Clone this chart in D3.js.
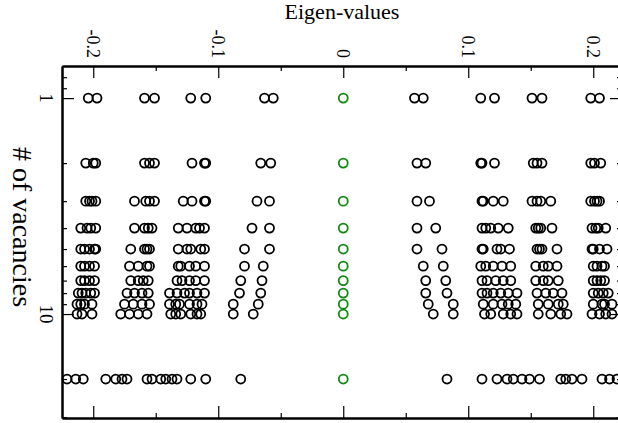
<!DOCTYPE html>
<html>
<head>
<meta charset="utf-8">
<script src="https://cdn.jsdelivr.net/npm/d3@7"></script>
<style>
  html, body { margin: 0; padding: 0; background: #fff; }
  svg { display: block; font-family: "Liberation Serif", "Times New Roman", serif; }
</style>
</head>
<body>
<div id="chart"></div>
<script>
// number of vacancies (one row of eigenvalues per count)
const vacancies = [1, 2, 3, 4, 5, 6, 7, 8, 9, 10, 20];

// non-zero eigenvalues read for each row
const eig1 = [-0.204, -0.197, -0.159, -0.151, -0.122, -0.110, -0.063, -0.056, 0.057, 0.064, 0.110, 0.121, 0.151, 0.159, 0.198, 0.205];
const eig2 = [-0.206, -0.200, -0.198, -0.159, -0.155, -0.151, -0.121, -0.111, -0.110, -0.066, -0.058, 0.059, 0.066, 0.110, 0.111, 0.121, 0.152, 0.155, 0.159, 0.198, 0.201, 0.206];
const eig3 = [-0.206, -0.203, -0.201, -0.198, -0.167, -0.158, -0.155, -0.151, -0.128, -0.121, -0.111, -0.110, -0.069, -0.059, 0.059, 0.069, 0.111, 0.112, 0.120, 0.128, 0.151, 0.155, 0.158, 0.166, 0.198, 0.201, 0.203, 0.205];
const eig4 = [-0.210, -0.205, -0.202, -0.198, -0.167, -0.159, -0.156, -0.153, -0.132, -0.125, -0.118, -0.115, -0.111, -0.073, -0.059, 0.059, 0.074, 0.111, 0.114, 0.118, 0.124, 0.132, 0.154, 0.156, 0.158, 0.167, 0.199, 0.202, 0.204, 0.210];
const eig5 = [-0.210, -0.207, -0.203, -0.199, -0.198, -0.170, -0.159, -0.157, -0.155, -0.132, -0.125, -0.122, -0.114, -0.111, -0.079, -0.059, 0.059, 0.079, 0.111, 0.112, 0.123, 0.126, 0.133, 0.155, 0.157, 0.159, 0.171, 0.199, 0.200, 0.205, 0.211];
const eig6 = [-0.210, -0.207, -0.203, -0.199, -0.171, -0.164, -0.157, -0.155, -0.132, -0.130, -0.123, -0.118, -0.111, -0.079, -0.064, 0.064, 0.080, 0.110, 0.114, 0.120, 0.127, 0.134, 0.154, 0.160, 0.164, 0.171, 0.200, 0.203, 0.207, 0.209];
const eig7 = [-0.210, -0.207, -0.203, -0.199, -0.170, -0.164, -0.160, -0.156, -0.133, -0.129, -0.123, -0.118, -0.111, -0.082, -0.065, 0.066, 0.082, 0.111, 0.115, 0.122, 0.128, 0.134, 0.154, 0.160, 0.164, 0.172, 0.200, 0.203, 0.206, 0.209];
const eig8 = [-0.212, -0.209, -0.206, -0.202, -0.199, -0.173, -0.167, -0.161, -0.156, -0.139, -0.133, -0.127, -0.123, -0.117, -0.111, -0.083, -0.066, 0.066, 0.083, 0.111, 0.115, 0.120, 0.126, 0.132, 0.139, 0.155, 0.162, 0.168, 0.175, 0.200, 0.204, 0.208, 0.212];
const eig9 = [-0.213, -0.210, -0.207, -0.201, -0.175, -0.168, -0.161, -0.155, -0.139, -0.134, -0.131, -0.123, -0.117, -0.113, -0.088, -0.068, 0.068, 0.088, 0.112, 0.120, 0.127, 0.132, 0.138, 0.156, 0.164, 0.172, 0.176, 0.200, 0.207, 0.209, 0.215];
const eig10 = [-0.213, -0.209, -0.201, -0.178, -0.171, -0.164, -0.157, -0.138, -0.134, -0.130, -0.122, -0.117, -0.114, -0.088, -0.072, 0.072, 0.088, 0.113, 0.118, 0.128, 0.134, 0.139, 0.156, 0.166, 0.174, 0.179, 0.199, 0.205, 0.210, 0.215];
const eig20 = [-0.221, -0.214, -0.208, -0.190, -0.182, -0.177, -0.173, -0.157, -0.153, -0.146, -0.142, -0.137, -0.133, -0.122, -0.110, -0.082, 0.083, 0.111, 0.123, 0.131, 0.136, 0.143, 0.149, 0.157, 0.174, 0.178, 0.183, 0.191, 0.207, 0.213, 0.219];

// the zero mode present in every row (drawn green)
const zeroModes = [0, 0, 0, 0, 0, 0, 0, 0, 0, 0, 0];

const xTicks = [-0.2, -0.1, 0, 0.1, 0.2];
const xMinor = [-0.15, -0.05, 0.05, 0.15];
const yTicks = [1, 10];
const yMinor = [0.8, 0.9, 2, 3, 4, 5, 6, 7, 8, 9, 20, 30];

(() => {
  const W = 618, H = 423;
  const mLeft = 62, mRight = 622, mTop = 66, mBottom = 418;

  const svg = d3.select('#chart').append('svg')
    .attr('width', W).attr('height', H);

  const x = d3.scaleLinear().domain([-0.225, 0.223]).range([mLeft, mRight]);
  const y = d3.scaleLog().domain([0.71, 30.3]).range([mTop, mBottom]);

  const rows = [eig1, eig2, eig3, eig4, eig5, eig6, eig7, eig8, eig9, eig10, eig20];
  const points = rows.flatMap((vals, i) => vals.map(v => ({ n: vacancies[i], v })));
  const zeros = zeroModes.map((v, i) => ({ n: vacancies[i], v }));

  // axes: ticks pointing inward on all four sides
  function styleAxis(g) {
    g.select('.domain').attr('stroke', '#000').attr('stroke-width', 2);
    g.selectAll('.tick line').attr('stroke', '#000').attr('stroke-width', 1.2);
    g.selectAll('.tick text').remove();
  }

  svg.append('g').attr('transform', `translate(0,${mTop})`)
    .call(d3.axisTop(x).tickValues(xTicks).tickSize(-12).tickSizeOuter(0)).call(styleAxis);
  svg.append('g').attr('transform', `translate(0,${mTop})`)
    .call(d3.axisTop(x).tickValues(xMinor).tickSize(-5).tickSizeOuter(0)).call(styleAxis);
  svg.append('g').attr('transform', `translate(0,${mBottom})`)
    .call(d3.axisBottom(x).tickValues(xTicks).tickSize(-12).tickSizeOuter(0)).call(styleAxis);
  svg.append('g').attr('transform', `translate(0,${mBottom})`)
    .call(d3.axisBottom(x).tickValues(xMinor).tickSize(-5).tickSizeOuter(0)).call(styleAxis);
  svg.append('g').attr('transform', `translate(${mLeft},0)`)
    .call(d3.axisLeft(y).tickValues(yTicks).tickSize(-12).tickSizeOuter(0)).call(styleAxis);
  svg.append('g').attr('transform', `translate(${mLeft},0)`)
    .call(d3.axisLeft(y).tickValues(yMinor).tickSize(-5).tickSizeOuter(0)).call(styleAxis);
  svg.append('g').attr('transform', `translate(${mRight},0)`)
    .call(d3.axisRight(y).tickValues(yTicks).tickSize(-12).tickSizeOuter(0)).call(styleAxis);
  svg.append('g').attr('transform', `translate(${mRight},0)`)
    .call(d3.axisRight(y).tickValues(yMinor).tickSize(-5).tickSizeOuter(0)).call(styleAxis);

  // rotated tick labels
  svg.selectAll('.xlab')
    .data(xTicks)
    .enter()
    .append('text')
    .attr('class', 'xlab')
    .attr('transform', d => `translate(${x(d)},58) rotate(90)`)
    .attr('text-anchor', 'end')
    .attr('dy', '0.35em')
    .attr('font-size', 18)
    .text(d => d);

  svg.selectAll('.ylab')
    .data(yTicks)
    .enter()
    .append('text')
    .attr('class', 'ylab')
    .attr('transform', d => `translate(47,${y(d)}) rotate(90)`)
    .attr('text-anchor', 'middle')
    .attr('dy', '0.35em')
    .attr('font-size', 19)
    .text(d => d);

  svg.append('text')
    .attr('x', 342).attr('y', 19)
    .attr('text-anchor', 'middle')
    .attr('font-size', 22)
    .text('Eigen-values');

  svg.append('text')
    .attr('transform', 'translate(23,227) rotate(90)')
    .attr('text-anchor', 'middle')
    .attr('dy', '0.35em')
    .attr('font-size', 28)
    .text('# of vacancies');

  // points
  svg.selectAll('.pt')
    .data(points)
    .enter()
    .append('circle')
    .attr('class', 'pt')
    .attr('cx', d => x(d.v))
    .attr('cy', d => y(d.n))
    .attr('r', 4.5)
    .attr('fill', 'none')
    .attr('stroke', '#000')
    .attr('stroke-width', 1.8);

  svg.selectAll('.zero')
    .data(zeros)
    .enter()
    .append('circle')
    .attr('class', 'zero')
    .attr('cx', d => x(d.v))
    .attr('cy', d => y(d.n))
    .attr('r', 4.5)
    .attr('fill', 'none')
    .attr('stroke', '#118a11')
    .attr('stroke-width', 1.8);
})();
</script>
</body>
</html>
